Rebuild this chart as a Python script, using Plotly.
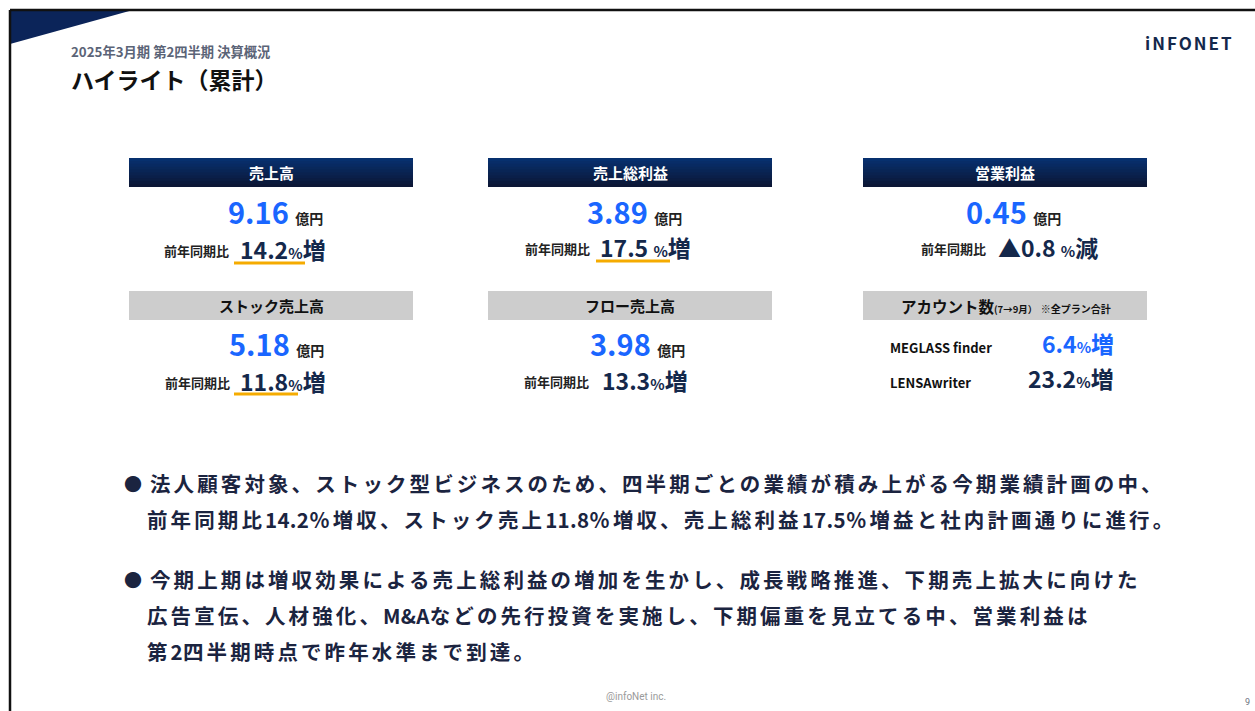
import re
import plotly.graph_objects as go

# ---------------- data ----------------
kpi_titles = ["売上高", "売上総利益", "営業利益", "ストック売上高", "フロー売上高"]
kpi_values = [9.16, 3.89, 0.45, 5.18, 3.98]
kpi_unit = "億円"
kpi_yoy = [14.2, 17.5, -0.8, 11.8, 13.3]
account_title = "アカウント数"
account_period = "(7→9月）"
account_note = "※全プラン合計"
account_names = ["MEGLASS finder", "LENSAwriter"]
account_growth = [6.4, 23.2]
subtitle = "2025年3月期 第2四半期 決算概況"
title = "ハイライト（累計）"
bullet_lines = [
    ["法人顧客対象、ストック型ビジネスのため、四半期ごとの業績が積み上がる今期業績計画の中、",
     "前年同期比14.2％増収、ストック売上11.8％増収、売上総利益17.5％増益と社内計画通りに進行。"],
    ["今期上期は増収効果による売上総利益の増加を生かし、成長戦略推進、下期売上拡大に向けた",
     "広告宣伝、人材強化、M&Aなどの先行投資を実施し、下期偏重を見立てる中、営業利益は",
     "第2四半期時点で昨年水準まで到達。"],
]
logo_text = "iNFONET"
footer_text = "@infoNet inc."
page_number = "9"

# ---------------- layout/style ----------------
W, H = 1255, 711
FONT = "Noto Sans CJK JP"
NAVY = "#14284b"
BLUE = "#1a66ff"
TEXT = "#1b2440"
ORANGE = "#f5ab00"
GRAY_HDR = "#cdcdcd"

col_x0 = [129, 488, 863]
hdr_w, hdr_h = 284, 29
row_y0 = [158, 291]
kpi_pos = [(0, 0, "navy"), (1, 0, "navy"), (2, 0, "navy"), (0, 1, "gray"), (1, 1, "gray")]
val_left = [226, 585, 964, 227, 588]
val_y = [211, 211, 211, 343, 343]
yoy_lab_right = [231, 592, 988, 232, 591]
yoy_left = [238, 598, 996, 238, 600]
yoy_y = [249, 247, 247, 381, 380]
yoy_gap = ["", " ", " ", "", ""]
underline = {0: (234, 305, 263), 1: (596, 670, 261), 3: (234, 298, 394)}

fig = go.Figure()
shapes = []
ann = []


def rect(x0, y0, x1, y1, color):
    shapes.append(dict(type="rect", xref="x", yref="y", x0=x0, y0=y0, x1=x1, y1=y1,
                       fillcolor=color, line=dict(width=0), layer="below"))


def text(x, y, s, size, color, xanchor="left", yanchor="middle", family=FONT):
    ann.append(dict(x=x, y=y, xref="x", yref="y", text=s, showarrow=False,
                    xanchor=xanchor, yanchor=yanchor,
                    font=dict(family=family, size=size, color=color)))


def lerp(c1, c2, t):
    a = [int(c1[i:i + 2], 16) for i in (1, 3, 5)]
    b = [int(c2[i:i + 2], 16) for i in (1, 3, 5)]
    return "#" + "".join(f"{int(round(a[k] + (b[k] - a[k]) * t)):02x}" for k in range(3))


def navy_header(x0, y0):
    n = 10
    for i in range(n):
        c = lerp("#07306e", "#0c1736", i / (n - 1))
        # each band runs to the bottom so no seams appear
        rect(x0, y0 + hdr_h * i / n, x0 + hdr_w, y0 + hdr_h, c)


def spaced(line, wide_ls=3.1, narrow_ls=0.3):
    parts = re.findall(r"[\x00-\x7f]+|[^\x00-\x7f]+", line)
    out = []
    for p in parts:
        ls = narrow_ls if ord(p[0]) < 128 else wide_ls
        p = p.replace("&", "&amp;")
        out.append(f"<span style='letter-spacing:{ls}px'>{p}</span>")
    return "".join(out)


# frame
shapes.append(dict(type="path", path="M 10 10 L 133 10 L 10 44 Z", xref="x", yref="y",
                   fillcolor="#0b2459", line=dict(width=0)))
shapes.append(dict(type="line", x0=10, y0=10, x1=W, y1=10, xref="x", yref="y",
                   line=dict(color="#111111", width=2.5)))
shapes.append(dict(type="line", x0=10, y0=10, x1=10, y1=H, xref="x", yref="y",
                   line=dict(color="#111111", width=2.5)))

# titles
text(69, 51, f"<b>{subtitle}</b>", 13.3, "#5b6477")
text(69, 79, f"<b>{title}</b>", 23, "#111111")
text(1236, 42, f"<b><span style='letter-spacing:2px'>{logo_text}</span></b>", 17, "#14284b", xanchor="right")

# KPI blocks
for i, (c, r, style) in enumerate(kpi_pos):
    x0 = col_x0[c]
    y0 = row_y0[r]
    if style == "navy":
        navy_header(x0, y0)
        tc = "#ffffff"
    else:
        rect(x0, y0, x0 + hdr_w, y0 + hdr_h, GRAY_HDR)
        tc = "#111111"
    text(x0 + hdr_w / 2, y0 + hdr_h / 2, f"<b>{kpi_titles[i]}</b>", 15, tc, xanchor="center")
    v = f"{kpi_values[i]:.2f}"
    text(val_left[i], val_y[i],
         f"<b>{v} <span style='font-size:14px;color:#222222'>{kpi_unit}</span></b>",
         29, BLUE)
    text(yoy_lab_right[i], yoy_y[i] + 1, "<b>前年同期比</b>", 13, "#222222", xanchor="right")
    yv = kpi_yoy[i]
    sign = "▲" if yv < 0 else ""
    word = "減" if yv < 0 else "増"
    text(yoy_left[i], yoy_y[i],
         f"<b>{sign}{abs(yv):.1f}{yoy_gap[i]}<span style='font-size:15px'>%</span>{word}</b>",
         23, NAVY)
    if i in underline:
        ux0, ux1, uy = underline[i]
        shapes.append(dict(type="line", x0=ux0, x1=ux1, y0=uy, y1=uy, xref="x", yref="y",
                           line=dict(color=ORANGE, width=3)))

# account block
ax0 = col_x0[2]
ay0 = row_y0[1]
rect(ax0, ay0, ax0 + hdr_w, ay0 + hdr_h, GRAY_HDR)
text(ax0 + hdr_w / 2 + 1, ay0 + hdr_h / 2,
     f"<b>{account_title}<span style='font-size:9.5px'>{account_period}</span> <span style='font-size:10px'>{account_note}</span></b>",
     15.5, "#111111", xanchor="center")
acc_y = [346, 381]
acc_val_y = [343, 378]
acc_colors = [BLUE, NAVY]
for k in range(len(account_names)):
    text(888, acc_y[k] + 1, f"<b>{account_names[k]}</b>", 13, "#111111")
    text(1116, acc_val_y[k],
         f"<b>{account_growth[k]:.1f}<span style='font-size:15px'>%</span>増</b>",
         23, acc_colors[k], xanchor="right")

# bullets
line_y = [[483, 519], [579, 615, 651]]
for b, lines in enumerate(bullet_lines):
    text(122, line_y[b][0], "●", 18, TEXT)
    for j, ln in enumerate(lines):
        x = 148 if j == 0 else 145
        text(x, line_y[b][j], f"<b>{spaced(ln)}</b>", 20.5, TEXT)

# footer
text(636, 696, footer_text, 10, "#9a9a9a", xanchor="center", family="Roboto")
text(1252, 702, page_number, 9, "#6b7280", xanchor="right", family="Roboto")

fig.update_layout(
    width=W, height=H, margin=dict(l=0, r=0, t=0, b=0),
    paper_bgcolor="white", plot_bgcolor="white",
    xaxis=dict(range=[0, W], visible=False, fixedrange=True),
    yaxis=dict(range=[H, 0], visible=False, fixedrange=True),
    shapes=shapes, annotations=ann, showlegend=False,
)
fig.write_html("out.html", config={"displayModeBar": False},
               post_script="document.body.style.margin='0';document.body.style.overflow='hidden';")
